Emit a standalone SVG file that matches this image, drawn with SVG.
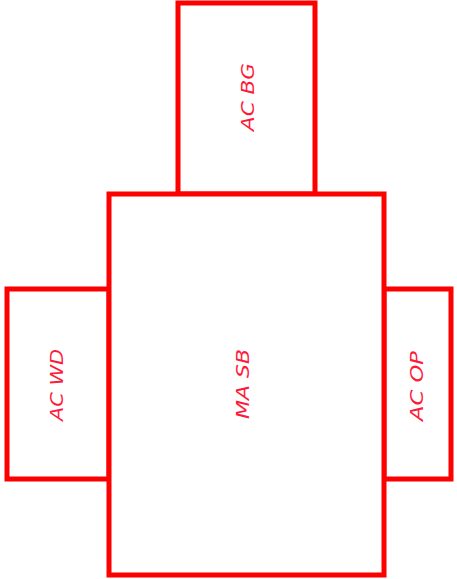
<svg xmlns="http://www.w3.org/2000/svg" width="457" height="579" viewBox="0 0 457 579">
<style>
.box{fill:#ffffff;stroke:#ff0000;stroke-width:5}
.lbl{font-family:"DejaVu Sans","Liberation Sans",sans-serif;font-style:italic;font-size:17px;fill:#ff1a3a;text-anchor:middle;dominant-baseline:central}
</style>
<rect width="457" height="579" fill="#ffffff"/>
<g id="connectors"></g>
<g id="node-ac-bg">
<rect class="box" x="178" y="3" width="137" height="191"/>
<text class="lbl" transform="translate(248,97) rotate(-90)" textLength="68" lengthAdjust="spacingAndGlyphs">AC BG</text>
</g>
<g id="node-ac-wd">
<rect class="box" x="7" y="289" width="102" height="190"/>
<text class="lbl" transform="translate(57,385) rotate(-90)" textLength="72" lengthAdjust="spacingAndGlyphs">AC WD</text>
</g>
<g id="node-ac-op">
<rect class="box" x="384" y="289" width="67" height="190"/>
<text class="lbl" transform="translate(417,386) rotate(-90)" textLength="70" lengthAdjust="spacingAndGlyphs">AC OP</text>
</g>
<g id="node-ma-sb">
<rect class="box" x="109" y="194" width="275" height="381"/>
<text class="lbl" transform="translate(243,384) rotate(-90)" textLength="70" lengthAdjust="spacingAndGlyphs">MA SB</text>
</g>
</svg>
